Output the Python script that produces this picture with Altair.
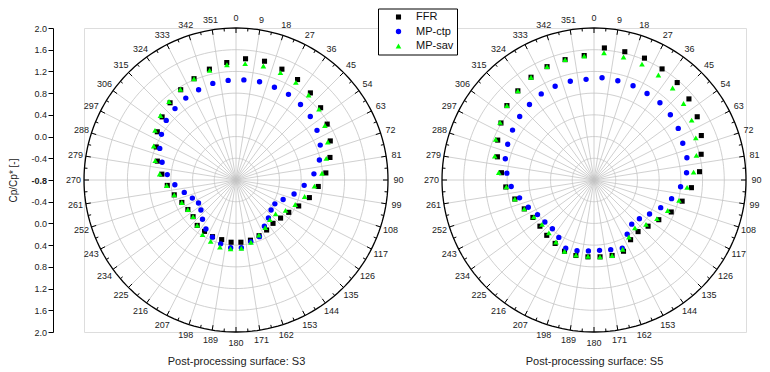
import altair as alt
import pandas as pd

# ---------------- data ----------------
angles = [4.5, 13.5, 22.5, 31.5, 40.5, 49.5, 58.5, 67.5, 76.5, 85.5,
          94.5, 103.5, 112.5, 121.5, 130.5, 139.5, 148.5, 157.5, 166.5, 175.5,
          184.5, 193.5, 202.5, 211.5, 220.5, 229.5, 238.5, 247.5, 256.5, 265.5,
          274.5, 283.5, 292.5, 301.5, 310.5, 319.5, 328.5, 337.5, 346.5, 355.5]

angle_labels = [0, 9, 18, 27, 36, 45, 54, 63, 72, 81, 90, 99, 108, 117, 126,
                135, 144, 153, 162, 171, 180, 189, 198, 207, 216, 225, 234,
                243, 252, 261, 270, 279, 288, 297, 306, 315, 324, 333, 342, 351]

surfaces = ["S3", "S5"]
series_names = ["FFR", "MP-ctp", "MP-sav"]
series_colors = ["#000000", "#0000ff", "#00ff00"]
series_shapes = ["square", "circle", "triangle-up"]
series_sizes = [26, 32, 46]

s3_ffr = [1.44, 1.45, 1.41, 1.37, 1.31, 1.25, 1.17, 1.08, 0.98, 0.86,
          0.72, 0.59, 0.45, 0.34, 0.28, 0.25, 0.28, 0.31, 0.34, 0.35,
          0.35, 0.33, 0.33, 0.31, 0.30, 0.24, 0.24, 0.28, 0.37, 0.47,
          0.57, 0.69, 0.79, 0.90, 0.99, 1.07, 1.15, 1.22, 1.30, 1.37]
s3_ctp = [1.05, 1.06, 1.05, 1.05, 1.03, 1.00, 0.95, 0.88, 0.78, 0.64,
          0.46, 0.30, 0.14, 0.04, 0.05, 0.12, 0.20, 0.33, 0.37, 0.45,
          0.45, 0.41, 0.34, 0.26, 0.15, 0.05, 0.01, 0.07, 0.18, 0.33,
          0.47, 0.60, 0.72, 0.81, 0.89, 0.93, 0.97, 1.00, 1.03, 1.04]
s3_sav = [1.35, 1.36, 1.34, 1.31, 1.26, 1.21, 1.12, 1.03, 0.91, 0.79,
          0.65, 0.50, 0.38, 0.27, 0.16, 0.16, 0.23, 0.30, 0.38, 0.46,
          0.47, 0.47, 0.42, 0.38, 0.30, 0.24, 0.24, 0.28, 0.37, 0.48,
          0.61, 0.73, 0.84, 0.95, 1.03, 1.10, 1.16, 1.22, 1.28, 1.33]

s5_ffr = [1.64, 1.63, 1.63, 1.60, 1.56, 1.50, 1.43, 1.34, 1.23, 1.15,
          1.00, 0.87, 0.74, 0.60, 0.51, 0.45, 0.49, 0.62, 0.63, 0.62,
          0.62, 0.63, 0.62, 0.57, 0.54, 0.51, 0.52, 0.59, 0.70, 0.83,
          0.91, 1.03, 1.12, 1.21, 1.31, 1.36, 1.42, 1.46, 1.48, 1.50]
s5_ctp = [1.09, 1.08, 1.08, 1.07, 1.07, 1.05, 1.02, 0.97, 0.96, 0.91,
          0.80, 0.67, 0.53, 0.40, 0.30, 0.27, 0.37, 0.56, 0.52, 0.50,
          0.51, 0.54, 0.56, 0.44, 0.38, 0.39, 0.42, 0.51, 0.61, 0.73,
          0.81, 0.88, 0.92, 0.96, 1.00, 1.03, 1.06, 1.07, 1.07, 1.06]
s5_sav = [1.55, 1.53, 1.51, 1.47, 1.43, 1.37, 1.31, 1.23, 1.14, 1.04,
          0.92, 0.81, 0.67, 0.56, 0.46, 0.36, 0.43, 0.58, 0.63, 0.62,
          0.61, 0.62, 0.62, 0.54, 0.48, 0.46, 0.50, 0.59, 0.70, 0.82,
          0.96, 1.08, 1.16, 1.23, 1.31, 1.36, 1.42, 1.46, 1.48, 1.49]

ring_values = [-0.4, 0.0, 0.4, 0.8, 1.2, 1.6]
outer_value = 2.0
center_value = -0.8
radial_labels = [2.0, 1.6, 1.2, 0.8, 0.4, 0.0, -0.4, -0.8]

y_title = "Cp/Cp* [-]"
subtitle_prefix = "Post-processing surface: "

# ---------------- layout constants ----------------
RMAX = outer_value - center_value          # 2.8 radial units
PX = 152 / RMAX                            # pixels per unit
W, H = 662, 304
OFFSET = (594 - 236) / PX                  # distance between the two polar centres
MAJ = 5 / PX
MIN = 3 / PX
LAB = 10.5 / PX
CIRCLE_STEPS = list(range(0, 361, 2))      # drawing resolution of the circles

values = {("S3", "FFR"): s3_ffr, ("S3", "MP-ctp"): s3_ctp, ("S3", "MP-sav"): s3_sav,
          ("S5", "FFR"): s5_ffr, ("S5", "MP-ctp"): s5_ctp, ("S5", "MP-sav"): s5_sav}

pts = pd.DataFrame([
    {"surface": s, "series": n, "angle": a, "cp": v}
    for s in surfaces for n in series_names
    for a, v in zip(angles, values[(s, n)])
])
rings = pd.DataFrame([{"surface": s, "ring": r, "angle": t, "key": f"{s}{r}"}
                      for s in surfaces for r in ring_values for t in CIRCLE_STEPS])
outer = pd.DataFrame([{"surface": s, "ring": outer_value, "angle": t, "key": s}
                      for s in surfaces for t in CIRCLE_STEPS])
spokes = pd.DataFrame([{"surface": s, "angle": a} for s in surfaces for a in angle_labels])
minor = pd.DataFrame([{"surface": s, "angle": a} for s in surfaces for a in angles])
labels = pd.DataFrame([{"surface": s, "angle": a, "lab": str(a)} for s in surfaces for a in angle_labels])

cx = f"(datum.surface === 'S5' ? {OFFSET} : 0)"
rad = "datum.angle * PI / 180"

xs = alt.Scale(domain=[-RMAX, -RMAX + W / PX], nice=False, zero=False)
ys = alt.Scale(domain=[-RMAX, RMAX], nice=False, zero=False)

TXT = "#222222"
FONT = "Liberation Sans"
GRID = "#c4c4c4"

xaxis = alt.Axis(
    title=None, values=[0, OFFSET],
    labelExpr=f"'{subtitle_prefix}' + (datum.value < 3 ? '{surfaces[0]}' : '{surfaces[1]}')",
    ticks=False, tickSize=0, domain=False, grid=False, labelPadding=23,
    labelFontSize=11, labelColor=TXT, labelFont=FONT, labelAngle=0, labelFlush=False,
)
yvals = sorted({round(v - center_value, 4) for v in radial_labels} |
               {round(-(v - center_value), 4) for v in radial_labels})
yaxis = alt.Axis(
    title=y_title, values=yvals,
    labelExpr=(f"(abs(datum.value) + ({center_value}) < -0.05 ? '-' : '') + "
               f"format(abs(abs(datum.value) + ({center_value})), '.1f')"),
    orient="left", offset=31, grid=False, tickSize=5, tickColor="black", tickWidth=1,
    domainColor="black", domainWidth=1, labelPadding=1.5, labelFontSize=9,
    labelColor=TXT, labelFont=FONT, labelFlush=False,
    labelFontWeight={"condition": {"test": "abs(datum.value) < 0.001", "value": "bold"},
                     "value": "normal"},
    titleFontSize=10, titleFontWeight="normal", titleColor=TXT, titleFont=FONT,
    titlePadding=12,
)

X = alt.X("px:Q", scale=xs, axis=xaxis)
Y = alt.Y("py:Q", scale=ys, axis=yaxis)

ring_layer = alt.Chart(rings).transform_calculate(
    r=f"datum.ring - ({center_value})",
    px=f"{cx} + datum.r * sin({rad})", py=f"datum.r * cos({rad})"
).mark_line(color=GRID, strokeWidth=0.8).encode(
    x=X, y=Y, detail="key:N", order="angle:Q"
)

spoke_layer = alt.Chart(spokes).transform_calculate(
    px=cx, py="0",
    ex=f"{cx} + {RMAX} * sin({rad})", ey=f"{RMAX} * cos({rad})"
).mark_rule(color=GRID, strokeWidth=0.8).encode(x=X, y=Y, x2="ex:Q", y2="ey:Q")

outer_layer = alt.Chart(outer).transform_calculate(
    r=f"datum.ring - ({center_value})",
    px=f"{cx} + datum.r * sin({rad})", py=f"datum.r * cos({rad})"
).mark_line(color="#000000", strokeWidth=1.3).encode(
    x=X, y=Y, detail="key:N", order="angle:Q"
)

major_layer = alt.Chart(spokes).transform_calculate(
    px=f"{cx} + {RMAX} * sin({rad})", py=f"{RMAX} * cos({rad})",
    ex=f"{cx} + {RMAX - MAJ} * sin({rad})", ey=f"{RMAX - MAJ} * cos({rad})"
).mark_rule(color="#000000", strokeWidth=1).encode(x=X, y=Y, x2="ex:Q", y2="ey:Q")

minor_layer = alt.Chart(minor).transform_calculate(
    px=f"{cx} + {RMAX} * sin({rad})", py=f"{RMAX} * cos({rad})",
    ex=f"{cx} + {RMAX - MIN} * sin({rad})", ey=f"{RMAX - MIN} * cos({rad})"
).mark_rule(color="#000000", strokeWidth=1).encode(x=X, y=Y, x2="ex:Q", y2="ey:Q")

label_layer = alt.Chart(labels).transform_calculate(
    px=f"{cx} + {RMAX + LAB} * sin({rad})", py=f"{RMAX + LAB} * cos({rad})"
).mark_text(fontSize=9, font=FONT, color=TXT, align="center", baseline="middle").encode(
    x=X, y=Y, text="lab:N"
)

legend = alt.Legend(
    title=None, orient="none", legendX=294, legendY=-19.5,
    strokeColor="black", fillColor="white", padding=3,
    labelFontSize=11, labelFont=FONT, labelColor="#111111",
    symbolSize=75, symbolStrokeWidth=0, rowPadding=2.5,
    symbolOffset=12, labelOffset=12,
)

point_layer = alt.Chart(pts).transform_calculate(
    r=f"datum.cp - ({center_value})",
    px=f"{cx} + datum.r * sin({rad})", py=f"datum.r * cos({rad})",
    sz="datum.series",
).mark_point(filled=True, opacity=1).encode(
    x=X, y=Y,
    color=alt.Color("series:N", scale=alt.Scale(domain=series_names, range=series_colors), legend=legend),
    shape=alt.Shape("series:N", scale=alt.Scale(domain=series_names, range=series_shapes), legend=legend),
    size=alt.Size("sz:N", scale=alt.Scale(domain=series_names, range=series_sizes), legend=None),
)

chart = alt.layer(
    ring_layer, spoke_layer, outer_layer, major_layer, minor_layer, label_layer, point_layer
).properties(
    width=W, height=H,
    autosize=alt.AutoSizeParams(type="none"),
    padding={"left": 76, "top": 20, "right": 16, "bottom": 35},
).configure_view(strokeWidth=0).configure(font=FONT)

chart.save("out.html", embed_options={"renderer": "svg", "actions": False})
